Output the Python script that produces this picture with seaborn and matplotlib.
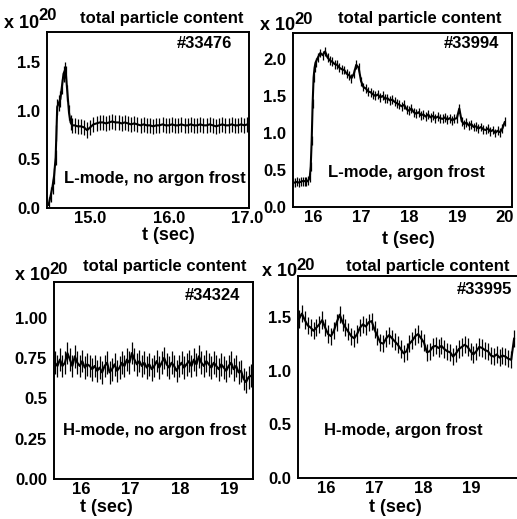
import numpy as np
import pandas as pd
import seaborn as sns
import matplotlib.pyplot as plt
from matplotlib.ticker import MultipleLocator

# shot #33476 : L-mode, no argon frost
t1_start = [14.47, 14.50, 14.52, 14.54, 14.56, 14.57, 14.58, 14.60, 14.62, 14.64,
            14.66, 14.68, 14.69, 14.71, 14.73, 14.75, 14.77]
n1_start = [0.03, 0.14, 0.22, 0.33, 0.52, 0.77, 1.04, 1.08, 1.12, 1.25,
            1.38, 1.42, 1.38, 1.18, 0.98, 0.88, 0.85]
t1_flat = np.round(np.arange(14.80, 17.01, 0.04), 2)
n1_flat = [0.85, 0.84, 0.84, 0.83, 0.80, 0.83, 0.86, 0.87, 0.88, 0.88,
           0.87, 0.88, 0.89, 0.88, 0.88, 0.87, 0.88, 0.87, 0.86, 0.87,
           0.86, 0.85, 0.86, 0.85, 0.85, 0.84, 0.85, 0.85, 0.86, 0.85,
           0.85, 0.86, 0.85, 0.85, 0.86, 0.85, 0.85, 0.86, 0.85, 0.85,
           0.86, 0.85, 0.85, 0.86, 0.85, 0.84, 0.85, 0.86, 0.85, 0.85,
           0.86, 0.85, 0.85, 0.86, 0.85, 0.86]
err1 = 0.08

# shot #33994 : L-mode, argon frost
t2_start = [15.58, 15.62, 15.66, 15.70, 15.74, 15.78, 15.82, 15.86, 15.90,
            15.93, 15.95, 15.97, 15.99, 16.01, 16.03]
n2_start = [0.33, 0.33, 0.34, 0.33, 0.34, 0.35, 0.35, 0.34, 0.36,
            0.40, 0.55, 0.90, 1.40, 1.75, 1.88]
t2_decay = np.round(np.arange(16.05, 20.01, 0.05), 2)
n2_decay = [1.95, 2.02, 2.08, 2.05, 2.10, 2.02, 1.98, 1.96, 1.93, 1.92,
            1.88, 1.86, 1.85, 1.80, 1.78, 1.74, 1.80, 1.92, 1.88, 1.70,
            1.62, 1.60, 1.56, 1.55, 1.52, 1.50, 1.52, 1.48, 1.50, 1.46,
            1.47, 1.44, 1.45, 1.42, 1.40, 1.38, 1.36, 1.38, 1.32, 1.30,
            1.33, 1.28, 1.26, 1.28, 1.24, 1.25, 1.22, 1.25, 1.21, 1.23,
            1.20, 1.22, 1.20, 1.19, 1.21, 1.18, 1.20, 1.17, 1.19, 1.20,
            1.33, 1.16, 1.12, 1.14, 1.10, 1.12, 1.08, 1.09, 1.06, 1.08,
            1.05, 1.04, 1.06, 1.02, 1.04, 1.00, 1.03, 1.01, 1.06, 1.15]
err2 = 0.06

# shot #34324 : H-mode, no argon frost
t3 = np.round(np.arange(15.48, 19.45, 0.05), 2)
n3 = [0.72, 0.70, 0.74, 0.70, 0.72, 0.78, 0.74, 0.70, 0.76, 0.72,
      0.70, 0.73, 0.69, 0.71, 0.70, 0.68, 0.70, 0.67, 0.69, 0.66,
      0.70, 0.72, 0.66, 0.68, 0.71, 0.67, 0.69, 0.72, 0.70, 0.74,
      0.72, 0.78, 0.74, 0.71, 0.73, 0.70, 0.72, 0.69, 0.71, 0.68,
      0.70, 0.73, 0.69, 0.72, 0.75, 0.71, 0.69, 0.72, 0.70, 0.67,
      0.70, 0.72, 0.69, 0.71, 0.73, 0.70, 0.74, 0.71, 0.76, 0.72,
      0.70, 0.73, 0.71, 0.69, 0.72, 0.70, 0.68, 0.71, 0.69, 0.67,
      0.70, 0.72, 0.68, 0.70, 0.66, 0.67, 0.62, 0.60, 0.63, 0.64]
err3 = 0.07

# shot #33995 : H-mode, argon frost
t4 = np.round(np.arange(15.44, 19.89, 0.06), 2)
n4 = [1.48, 1.53, 1.47, 1.42, 1.40, 1.37, 1.40, 1.43, 1.47, 1.40,
      1.34, 1.32, 1.37, 1.45, 1.52, 1.45, 1.40, 1.36, 1.32, 1.30,
      1.34, 1.40, 1.43, 1.41, 1.45, 1.46, 1.38, 1.32, 1.26, 1.25,
      1.30, 1.33, 1.30, 1.27, 1.24, 1.20, 1.16, 1.18, 1.25, 1.28,
      1.32, 1.34, 1.30, 1.26, 1.17, 1.18, 1.22, 1.23, 1.21, 1.23,
      1.20, 1.18, 1.17, 1.13, 1.16, 1.20, 1.22, 1.24, 1.22, 1.18,
      1.15, 1.18, 1.22, 1.21, 1.19, 1.18, 1.14, 1.13, 1.15, 1.12,
      1.14, 1.13, 1.11, 1.10, 1.30]
err4 = 0.08

shots = ["#33476", "#33994", "#34324", "#33995"]
modes = ["L-mode, no argon frost", "L-mode, argon frost",
         "H-mode, no argon frost", "H-mode, argon frost"]

sns.set_style("white")
plt.rcParams['font.family'] = ['Liberation Sans', 'DejaVu Sans']
plt.rcParams['font.weight'] = 'bold'
plt.rcParams['text.color'] = 'black'
plt.rcParams['xtick.color'] = 'black'
plt.rcParams['ytick.color'] = 'black'

W, H = 517, 519
fig = plt.figure(figsize=(W / 100, H / 100), dpi=100)
FS = 12


def px(x, y):
    return x / W, 1 - y / H


def panel(box, t, n, err, xlim, ylim, xticks, xlabels, yticks, ylabels, xminor, yminor, right=True):
    l, top, r, b = box
    ax = fig.add_axes([l / W, 1 - b / H, (r - l) / W, (b - top) / H])
    df = pd.DataFrame({"t": t, "n": n})
    ax.errorbar(df["t"], df["n"], yerr=err, fmt="none", ecolor="black", elinewidth=0.9)
    sns.lineplot(data=df, x="t", y="n", ax=ax, color="black", lw=1.5, estimator=None)
    ax.set_xlim(*xlim)
    ax.set_ylim(*ylim)
    ax.set_xticks(xticks)
    ax.set_xticklabels(xlabels)
    ax.set_yticks(yticks)
    ax.set_yticklabels(ylabels)
    ax.xaxis.set_minor_locator(MultipleLocator(xminor))
    ax.yaxis.set_minor_locator(MultipleLocator(yminor))
    ax.tick_params(which="major", direction="in", length=4, width=1.2, labelsize=FS)
    ax.tick_params(axis="x", pad=2)
    ax.tick_params(axis="y", pad=5)
    ax.tick_params(which="minor", direction="in", length=2, width=1)
    for lab in ax.get_xticklabels() + ax.get_yticklabels():
        lab.set_fontweight("bold")
    for s in ax.spines.values():
        s.set_linewidth(1.4)
        s.set_color("black")
    ax.spines["right"].set_visible(right)
    ax.set_xlabel("")
    ax.set_ylabel("")
    return ax


t1 = list(t1_start) + list(t1_flat)
n1 = n1_start + n1_flat
panel((47, 32, 249, 208), t1, n1, err1, (14.45, 17.02), (0, 1.81),
      [15.0, 16.0, 17.0], ["15.0", "16.0", "17.0"],
      [0.0, 0.5, 1.0, 1.5], ["0.0", "0.5", "1.0", "1.5"], 0.1, 0.1)

t2 = list(t2_start) + list(t2_decay)
n2 = n2_start + n2_decay
panel((293, 33, 512, 207), t2, n2, err2, (15.58, 20.15), (0, 2.35),
      [16, 17, 18, 19, 20], ["16", "17", "18", "19", "20"],
      [0.0, 0.5, 1.0, 1.5, 2.0], ["0.0", "0.5", "1.0", "1.5", "2.0"], 0.2, 0.1)

panel((54, 282, 253, 479), t3, n3, err3, (15.46, 19.47), (0, 1.22),
      [16, 17, 18, 19], ["16", "17", "18", "19"],
      [0.0, 0.25, 0.5, 0.75, 1.0], ["0.00", "0.25", "0.5", "0.75", "1.00"], 0.2, 0.05)

panel((298, 276, 518, 478), t4, n4, err4, (15.42, 19.96), (0, 1.88),
      [16, 17, 18, 19], ["16", "17", "18", "19"],
      [0.0, 0.5, 1.0, 1.5], ["0.0", "0.5", "1.0", "1.5"], 0.2, 0.1, right=False)

# x 10^20 labels
for (x, y) in [(4, 23), (260, 26), (15, 276), (262, 272)]:
    fig.text(*px(x, y), "x 10", fontsize=FS + 1, fontweight="bold", ha="left", va="center")
    fig.text(*px(x + 34, y - 7), "20", fontsize=FS, fontweight="bold", ha="left", va="center")

# titles
for (x, y) in [(162, 18), (420, 19), (165, 266), (428, 266)]:
    fig.text(*px(x, y), "total particle content", fontsize=FS, fontweight="bold",
             ha="center", va="center")

for (x, y), s in zip([(204, 43), (471, 43), (212, 295), (484, 290)], shots):
    fig.text(*px(x, y), s, fontsize=FS, fontweight="bold", ha="center", va="center")

for (x, y), s in zip([(155, 178), (406, 173), (155, 430), (403, 430)], modes):
    fig.text(*px(x, y), s, fontsize=FS, fontweight="bold", ha="center", va="center")

for (x, y) in [(168, 235), (408, 240), (106, 508), (395, 508)]:
    fig.text(*px(x, y), "t (sec)", fontsize=FS + 1, fontweight="bold", ha="center", va="center")

fig.savefig("out.png", dpi=100)
